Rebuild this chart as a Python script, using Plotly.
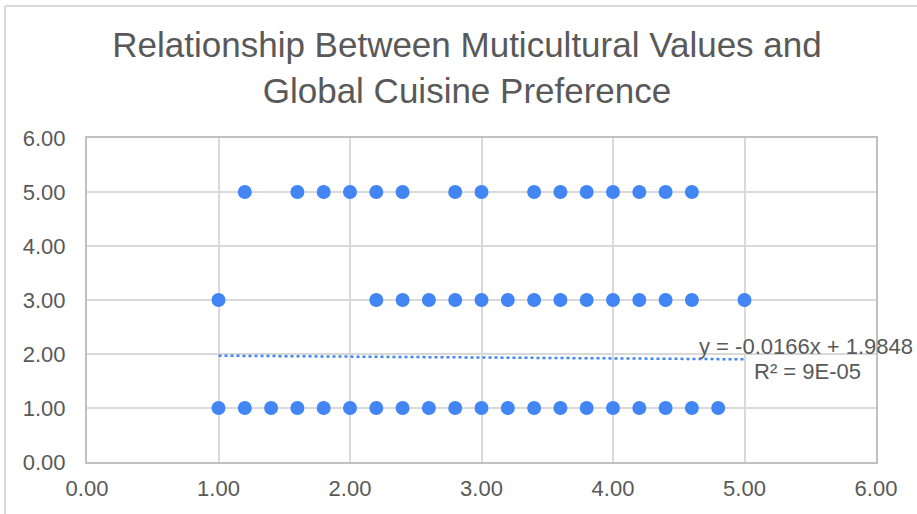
import plotly.graph_objects as go
import numpy as np

# Data
x_pref5 = [1.2, 1.6, 1.8, 2.0, 2.2, 2.4, 2.8, 3.0, 3.4, 3.6, 3.8, 4.0, 4.2, 4.4, 4.6]
x_pref3 = [1.0, 2.2, 2.4, 2.6, 2.8, 3.0, 3.2, 3.4, 3.6, 3.8, 4.0, 4.2, 4.4, 4.6, 5.0]
x_pref1 = [1.0, 1.2, 1.4, 1.6, 1.8, 2.0, 2.2, 2.4, 2.6, 2.8, 3.0, 3.2, 3.4, 3.6, 3.8,
           4.0, 4.2, 4.4, 4.6, 4.8]
y_levels = [5.0, 3.0, 1.0]

trend_slope = -0.0166
trend_intercept = 1.9848
trend_x_range = [1.0, 5.0]
trend_label = "y = -0.0166x + 1.9848"
r2_label = "R² = 9E-05"

title_text = "Relationship Between Muticultural Values and<br>Global Cuisine Preference"
tick_vals = [0, 1, 2, 3, 4, 5, 6]

xs = x_pref5 + x_pref3 + x_pref1
ys = [y_levels[0]] * len(x_pref5) + [y_levels[1]] * len(x_pref3) + [y_levels[2]] * len(x_pref1)

BLUE = "#4285F4"
TXT = "#595959"
GRID = "#d9d9d9"
AXIS = "#c0c0c0"
FONT = "Liberation Sans, Arial, sans-serif"

W, H = 917, 514
L, R, T, B = 87, 41, 138, 52
pw, ph = W - L - R, H - T - B

fig = go.Figure()

tx = np.array(trend_x_range)
fig.add_trace(go.Scatter(
    x=tx, y=trend_slope * tx + trend_intercept, mode="lines",
    line=dict(color=BLUE, width=2.5, dash="dot"), hoverinfo="skip", showlegend=False))

fig.add_trace(go.Scatter(
    x=xs, y=ys, mode="markers",
    marker=dict(color=BLUE, size=14, line=dict(width=0)), showlegend=False))

fig.add_annotation(x=4.64, y=2.13, xref="x", yref="y", text=trend_label,
                   showarrow=False, xanchor="left", yanchor="middle",
                   font=dict(family=FONT, size=22, color=TXT))
fig.add_annotation(x=5.9, y=1.68, xref="x", yref="y", text=r2_label,
                   showarrow=False, xanchor="right", yanchor="middle",
                   font=dict(family=FONT, size=22, color=TXT))

# outer chart frame (top and left visible)
top_y = 1 + (T - 6) / ph
left_x = (5 - L) / pw
fig.add_shape(type="line", xref="paper", yref="paper", x0=left_x, x1=1.2, y0=top_y, y1=top_y,
              line=dict(color=GRID, width=2))
fig.add_shape(type="line", xref="paper", yref="paper", x0=left_x, x1=left_x, y0=-0.3, y1=top_y,
              line=dict(color=GRID, width=2))

fig.update_layout(
    width=W, height=H,
    margin=dict(l=L, r=R, t=T, b=B),
    paper_bgcolor="white", plot_bgcolor="white",
    title=dict(text=title_text, x=467 / W, xref="container", xanchor="center",
               y=1 - 57 / H, yanchor="middle",
               font=dict(family=FONT, size=35, color=TXT)),
    font=dict(family=FONT, size=22, color=TXT),
)
fig.update_xaxes(range=[0, 6], tickvals=tick_vals, tickformat=".2f",
                 showgrid=True, gridcolor=GRID, gridwidth=2,
                 showline=True, linecolor=AXIS, linewidth=2, mirror=True,
                 zeroline=False, ticks="", ticklabelstandoff=6,
                 tickfont=dict(family=FONT, size=22, color=TXT))
fig.update_yaxes(range=[0, 6], tickvals=tick_vals, tickformat=".2f",
                 showgrid=True, gridcolor=GRID, gridwidth=2,
                 showline=True, linecolor=AXIS, linewidth=2, mirror=True,
                 zeroline=False, ticks="", ticklabelstandoff=15,
                 tickfont=dict(family=FONT, size=22, color=TXT))

fig.write_html("out.html")
